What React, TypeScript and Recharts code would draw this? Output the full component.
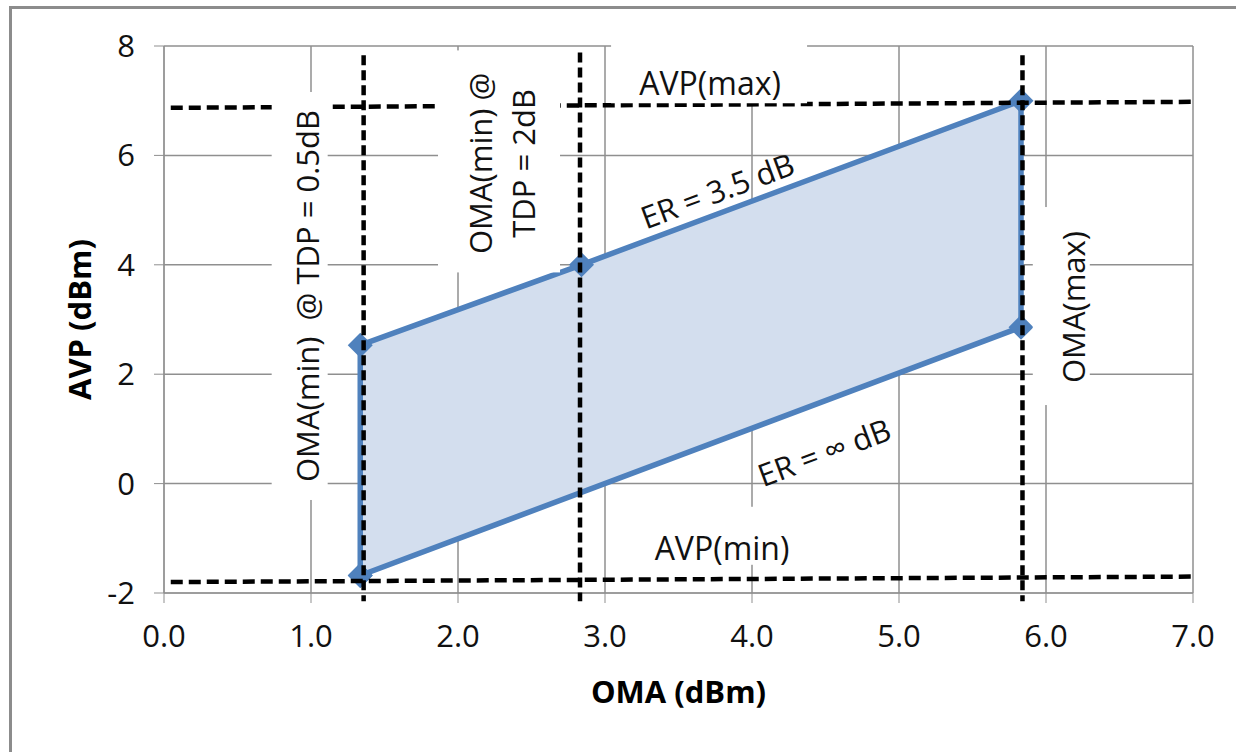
import {
  Area,
  CartesianGrid,
  ComposedChart,
  ReferenceDot,
  ReferenceLine,
  Scatter,
  XAxis,
  YAxis,
} from "recharts";

const xTicks = [0, 1, 2, 3, 4, 5, 6, 7];
const yTicks = [-2, 0, 2, 4, 6, 8];

// shaded region: OMA vs AVP between ER = inf (low) and ER = 3.5 dB (high)
const regionOma = [1.335, 2.84, 5.83];
const regionLow = [-1.68, -0.17, 2.85];
const regionHigh = [2.53, 4.0, 7.0];

// outline corners in drawing order (closed)
const outlineOma = [1.335, 1.335, 2.84, 5.83, 5.83, 1.335];
const outlineAvp = [-1.68, 2.53, 4.0, 7.0, 2.86, -1.68];

// dashed limit lines
const omaMinTdp05 = [{ x: 1.358, y: 7.83 }, { x: 1.358, y: -2.15 }];
const omaMinTdp2 = [{ x: 2.83, y: 7.88 }, { x: 2.83, y: -2.15 }];
const omaMax = [{ x: 5.84, y: 7.83 }, { x: 5.84, y: -2.15 }];
const avpMax = [{ x: 0.046, y: 6.87 }, { x: 7.0, y: 6.98 }];
const avpMin = [{ x: 0.046, y: -1.8 }, { x: 7.0, y: -1.7 }];

// annotation texts and where they sit (data coords)
const noteText = [
  ["OMA(min)  @ TDP = 0.5dB"],
  ["OMA(min) @", "TDP = 2dB"],
  ["AVP(max)"],
  ["ER = 3.5 dB"],
  ["ER = \u221E dB"],
  ["AVP(min)"],
  ["OMA(max)"],
];
const noteX = [0.923, 2.279, 3.708, 3.763, 4.49, 3.796, 6.104];
const noteY = [3.43, 5.89, 7.575, 5.365, 0.58, -0.954, 3.246];

// look of each note: angle, white box size, text offset
const noteStyle = [
  { angle: -90, w: 56, h: 408, dx: 7, dy: 0 },
  { angle: -90, w: 122, h: 222, dx: 2, dy: 2 },
  { angle: 0, w: 196, h: 68, dx: 1, dy: 13 },
  { angle: -20.4, w: 0, h: 0, dx: 0, dy: 0 },
  { angle: -20.4, w: 0, h: 0, dx: 0, dy: 0 },
  { angle: 0, w: 165, h: 58, dx: 0, dy: 12 },
  { angle: -90, w: 57, h: 198, dx: 12, dy: 1 },
];

const region = regionOma.map((x, i) => ({ x, band: [regionLow[i], regionHigh[i]] }));
const outline = outlineOma.map((x, i) => ({ x, y: outlineAvp[i] }));

const BLUE = "#4F81BD";
const GRID = "#8f8f8f";
const FONT = "'Open Sans', sans-serif";

const Diamond = (p: any) => {
  const { cx, cy } = p;
  const s = 12.5;
  return (
    <path
      d={`M${cx},${cy - s}L${cx + s},${cy}L${cx},${cy + s}L${cx - s},${cy}Z`}
      fill={BLUE}
    />
  );
};

const renderNote = (i: number) => (p: any) => {
  const { cx, cy } = p;
  const st = noteStyle[i];
  const lines = noteText[i];
  const tx = cx + st.dx;
  const ty = cy + st.dy;
  const gap = 43;
  return (
    <g>
      {st.w > 0 && (
        <rect x={cx - st.w / 2} y={cy - st.h / 2} width={st.w} height={st.h} fill="#fff" />
      )}
      {lines.map((ln, k) => {
        const off = (k - (lines.length - 1) / 2) * gap;
        const lx = st.angle === -90 ? tx + off : tx;
        const ly = st.angle === -90 ? ty : ty + off;
        return (
          <text
            key={k}
            x={lx}
            y={ly}
            transform={`rotate(${st.angle} ${lx} ${ly})`}
            textAnchor="middle"
            dominantBaseline="central"
            fontFamily={FONT}
            fontSize={st.angle === 0 ? 32 : 31}
            fill="#111"
            style={{ whiteSpace: "pre" }}
          >
            {ln}
          </text>
        );
      })}
    </g>
  );
};

const dashH = { stroke: "#000", strokeWidth: 4.5, strokeDasharray: "12 6" };
const dashV = { stroke: "#000", strokeWidth: 4.5, strokeDasharray: "10 5" };

export default function App() {
  return (
    <div
      style={{
        position: "absolute",
        left: 0,
        top: 0,
        width: 1236,
        height: 752,
        background: "#fff",
        fontFamily: FONT,
      }}
    >
      <div
        style={{
          position: "absolute",
          left: 9,
          top: 6,
          width: 1236,
          height: 744,
          borderLeft: "3px solid #8c8c8c",
          borderTop: "3px solid #8c8c8c",
          borderBottom: "2px solid #cfcfcf",
        }}
      />
      <div style={{ position: "absolute", left: 0, top: 0 }}>
        <ComposedChart
          width={1236}
          height={752}
          data={region}
          margin={{ top: 46, right: 43, left: 0, bottom: 99 }}
        >
          <CartesianGrid stroke={GRID} strokeWidth={1.5} />
          <XAxis
            dataKey="x"
            type="number"
            domain={[0, 7]}
            ticks={xTicks}
            interval={0}
            tickFormatter={(v: number) => v.toFixed(1)}
            height={60}
            tickSize={10}
            tickMargin={22}
            stroke={GRID}
            tick={{ fill: "#111", fontSize: 31, fontFamily: FONT }}
            label={{
              value: "OMA (dBm)",
              position: "bottom",
              offset: 28,
              style: { fontWeight: 700, fontSize: 31, fill: "#000", fontFamily: FONT },
            }}
          />
          <YAxis
            dataKey="y"
            type="number"
            domain={[-2, 8]}
            ticks={yTicks}
            interval={0}
            width={164}
            tickSize={10}
            tickMargin={19}
            stroke={GRID}
            tick={{ fill: "#111", fontSize: 31, fontFamily: FONT }}
            label={{
              value: "AVP (dBm)",
              angle: -90,
              position: "center",
              dx: -2,
              style: { fontWeight: 700, fontSize: 31, fill: "#000", fontFamily: FONT },
            }}
          />
          <Area
            dataKey="band"
            type="linear"
            stroke="none"
            fill="#D3DEEE"
            fillOpacity={1}
            isAnimationActive={false}
            zIndex={100}
          />
          <Scatter
            data={outline}
            fill={BLUE}
            line={{ stroke: BLUE, strokeWidth: 5.5 }}
            shape={Diamond}
            isAnimationActive={false}
            zIndex={600}
          />
          <ReferenceLine segment={omaMinTdp05} ifOverflow="visible" {...dashV} zIndex={700} />
          <ReferenceLine segment={omaMinTdp2} ifOverflow="visible" {...dashV} zIndex={700} />
          <ReferenceLine segment={omaMax} ifOverflow="visible" {...dashV} zIndex={700} />
          <ReferenceLine segment={avpMax} ifOverflow="visible" {...dashH} zIndex={700} />
          <ReferenceLine segment={avpMin} ifOverflow="visible" {...dashH} zIndex={700} />
          {noteText.map((_, i) => (
            <ReferenceDot
              key={i}
              x={noteX[i]}
              y={noteY[i]}
              r={1}
              ifOverflow="visible"
              shape={renderNote(i)}
              zIndex={800}
            />
          ))}
        </ComposedChart>
      </div>
    </div>
  );
}
